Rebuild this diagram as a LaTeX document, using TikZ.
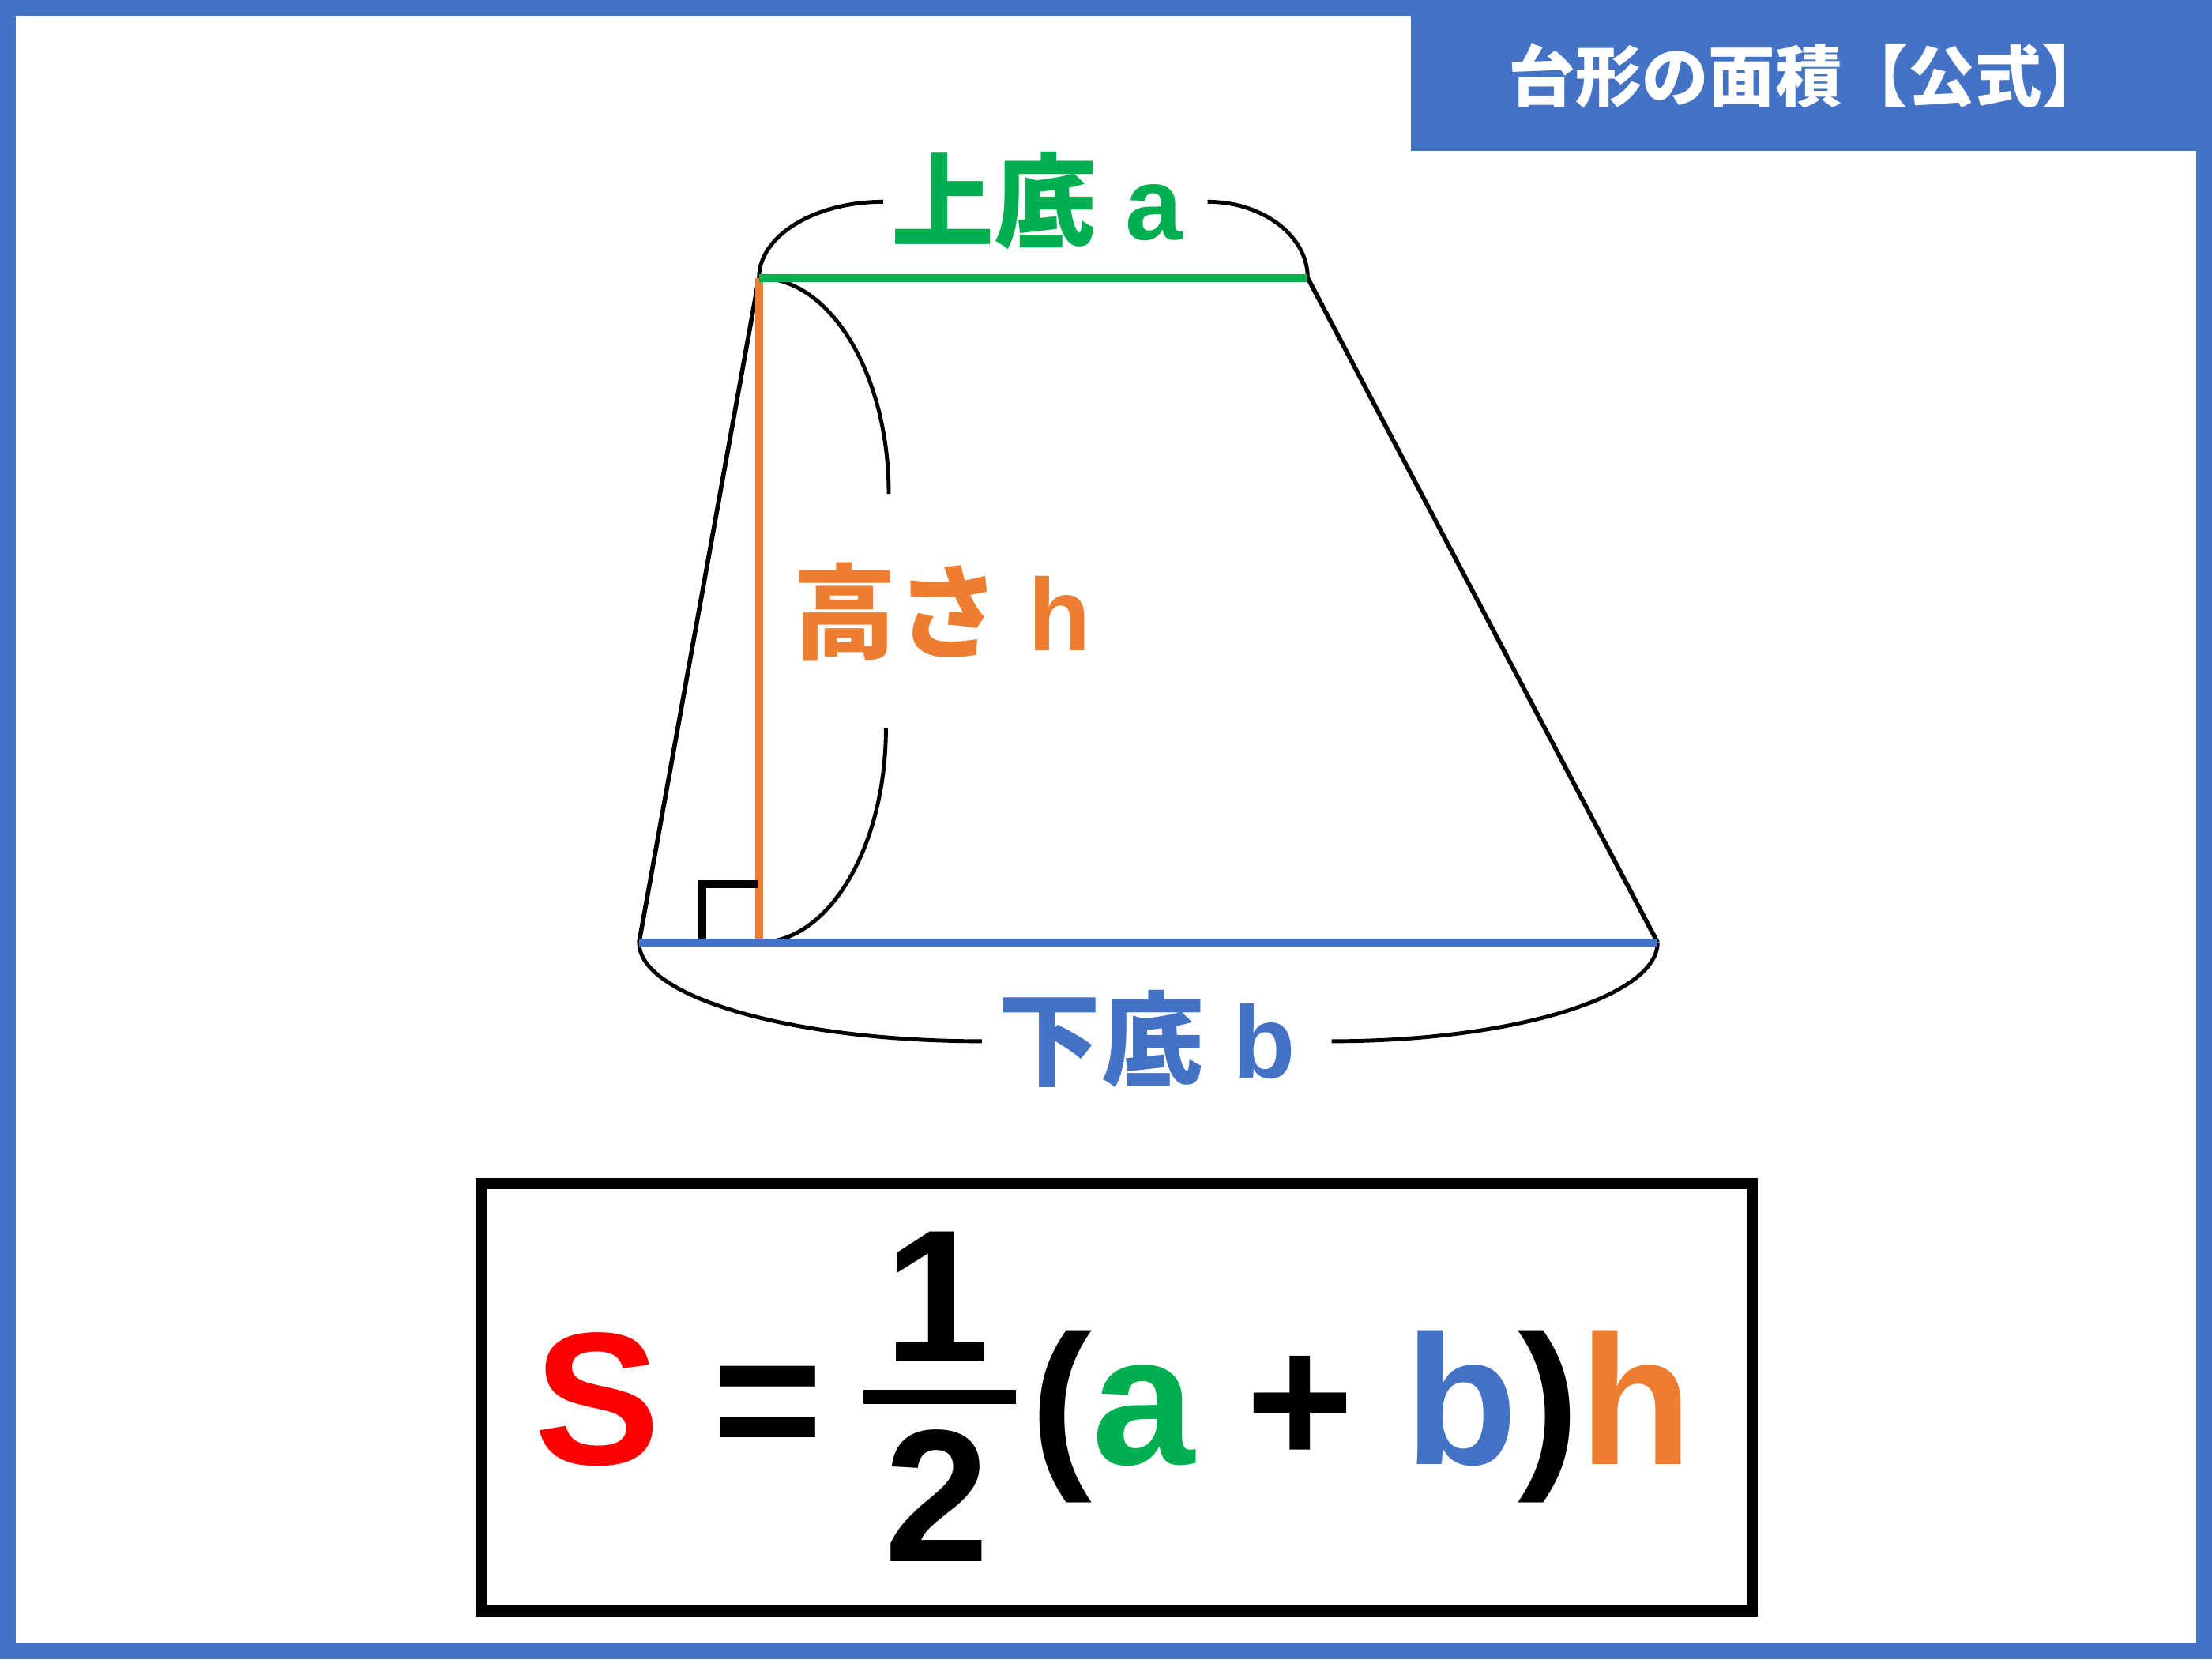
\documentclass[tikz,border=0pt]{standalone}
\usepackage{fontspec}
\setmainfont{Liberation Sans}
\newfontfamily\jp{Noto Sans CJK JP}
\definecolor{myblue}{HTML}{4472C4}
\definecolor{mygreen}{HTML}{00B050}
\definecolor{myorange}{HTML}{ED7D31}
\definecolor{myred}{HTML}{FF0000}
\tikzset{
  side/.style={line width=1.6pt, black},
  brace/.style={line width=1.4pt, black},
  colline/.style={line width=2.8pt},
  lbl/.style={inner sep=0pt, anchor=base, font=\fontsize{37}{40}\selectfont\bfseries},
  formula/.style={inner sep=0pt, anchor=base, font=\fontsize{68}{70}\selectfont\bfseries},
}
\begin{document}
\begin{tikzpicture}[x=0.0178571cm, y=-0.0178571cm]
\useasboundingbox (0,0) rectangle (1568,1176);
% frame and header
\fill[myblue] (0,0) rectangle (1568,1176);
\fill[white] (11,11) rectangle (1557,1165);
\fill[myblue] (1000,0) rectangle (1568,107);
\node[inner sep=0pt, anchor=base, text=white, font=\fontsize{24}{26}\selectfont\jp\bfseries] (title) at (1282,72) {台形の面積【公式】};
% trapezoid vertices
\coordinate (TL) at (538,197);
\coordinate (TR) at (927,197);
\coordinate (BR) at (1175,668);
\coordinate (BL) at (453,668);
\coordinate (H) at (538,668);
\coordinate (uaL) at (626,143);
\coordinate (uaR) at (856,143);
\coordinate (haT) at (630,350);
\coordinate (haB) at (628,516);
\coordinate (baL) at (696,738);
\coordinate (baR) at (944,738);
\coordinate (raA) at (498,665);
\coordinate (raB) at (498,626.5);
\coordinate (raC) at (537,626.5);
% sides
\draw[side] (TL) -- (BL);
\draw[side] (TR) -- (BR);
% braces
\draw[brace] (TL) .. controls (538,167.2) and (577.4,143) .. (uaL);
\draw[brace] (uaR) .. controls (895.2,143) and (927,167.2) .. (TR);
\draw[brace] (TL) .. controls (588.8,197) and (630,265.5) .. (haT);
\draw[brace] (haB) .. controls (628,600) and (587.7,668) .. (H);
\draw[brace] (BL) .. controls (453,706.7) and (561.8,738) .. (baL);
\draw[brace] (baR) .. controls (1071.6,738) and (1175,706.7) .. (BR);
% height and right angle
\draw[colline, myorange] (TL) -- (H);
\draw[colline, black, miter limit=10] (raA) -- (raB) -- (raC);
% bases
\draw[colline, mygreen] (TL) -- (TR);
\draw[colline, myblue] (BL) -- (BR);
% labels
\node[lbl, text=mygreen] (la) at (735,170) {{\jp 上底} a};
\node[lbl, text=myorange] (lh) at (668,461) {{\jp 高さ} h};
\node[lbl, text=myblue] (lb) at (813,764) {{\jp 下底} b};
% formula box
\draw[line width=4pt, black] (341,839) rectangle (1242,1142);
\node[formula] (lhs) at (481,1038) {\textcolor{myred}{S} =};
\node[formula] (one) at (664,965) {1};
\node[formula] (two) at (664,1107) {2};
\coordinate (barL) at (612,990);
\coordinate (barR) at (720,990);
\draw[line width=5pt] (barL) -- (barR);
\node[formula, font=\fontsize{66.5}{70}\selectfont\bfseries] (rhs) at (965,1038) {(\textcolor{mygreen}{a} + \textcolor{myblue}{b})\textcolor{myorange}{h}};
\end{tikzpicture}
\end{document}
